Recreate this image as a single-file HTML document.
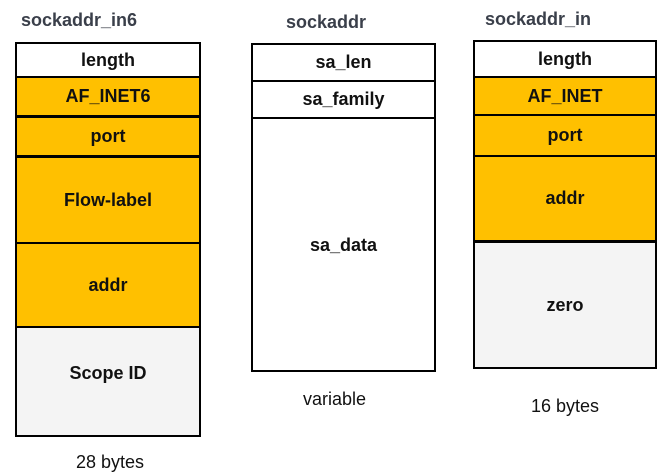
<!DOCTYPE html>
<html><head><style>
body{margin:0;width:669px;height:473px;background:#fff;position:relative;overflow:hidden;font-family:"Liberation Sans",sans-serif}
.c{position:absolute;box-sizing:border-box;border:2px solid #000;display:flex;align-items:center;justify-content:center;font-weight:bold;font-size:18px;color:#111}
.y{background:#ffc000}.g{background:#f4f4f4}.w{background:#fff}
.t{position:absolute;font-weight:bold;font-size:18px;color:#3a3f4a}
.n{position:absolute;font-size:18px;color:#111}
</style></head><body>
<div class="t" style="left:21px;top:10px">sockaddr_in6</div>
<div class="t" style="left:286px;top:12px">sockaddr</div>
<div class="t" style="left:485px;top:9px">sockaddr_in</div>

<div class="c w" style="left:15px;top:42px;width:186px;height:36px">length</div>
<div class="c y" style="left:15px;top:76px;width:186px;height:42px;border-bottom-width:3px">AF_INET6</div>
<div class="c y" style="left:15px;top:116px;width:186px;height:42px;border-bottom-width:3px">port</div>
<div class="c y" style="left:15px;top:156px;width:186px;height:88px">Flow-label</div>
<div class="c y" style="left:15px;top:242px;width:186px;height:86px">addr</div>
<div class="c g" style="left:15px;top:326px;width:186px;height:111px;padding-bottom:16px">Scope ID</div>
<div class="n" style="left:76px;top:452px">28 bytes</div>

<div class="c w" style="left:251px;top:43px;width:185px;height:39px">sa_len</div>
<div class="c w" style="left:251px;top:80px;width:185px;height:40px;border-bottom-width:3px">sa_family</div>
<div class="c w" style="left:251px;top:117px;width:185px;height:255px;align-items:flex-start;padding-top:116px">sa_data</div>
<div class="n" style="left:303px;top:389px">variable</div>

<div class="c w" style="left:473px;top:40px;width:184px;height:38px">length</div>
<div class="c y" style="left:473px;top:76px;width:184px;height:41px;border-bottom-width:3px">AF_INET</div>
<div class="c y" style="left:473px;top:114px;width:184px;height:44px;border-bottom-width:3px">port</div>
<div class="c y" style="left:473px;top:155px;width:184px;height:88px;border-bottom-width:3px">addr</div>
<div class="c g" style="left:473px;top:241px;width:184px;height:128px">zero</div>
<div class="n" style="left:531px;top:396px">16 bytes</div>
</body></html>
